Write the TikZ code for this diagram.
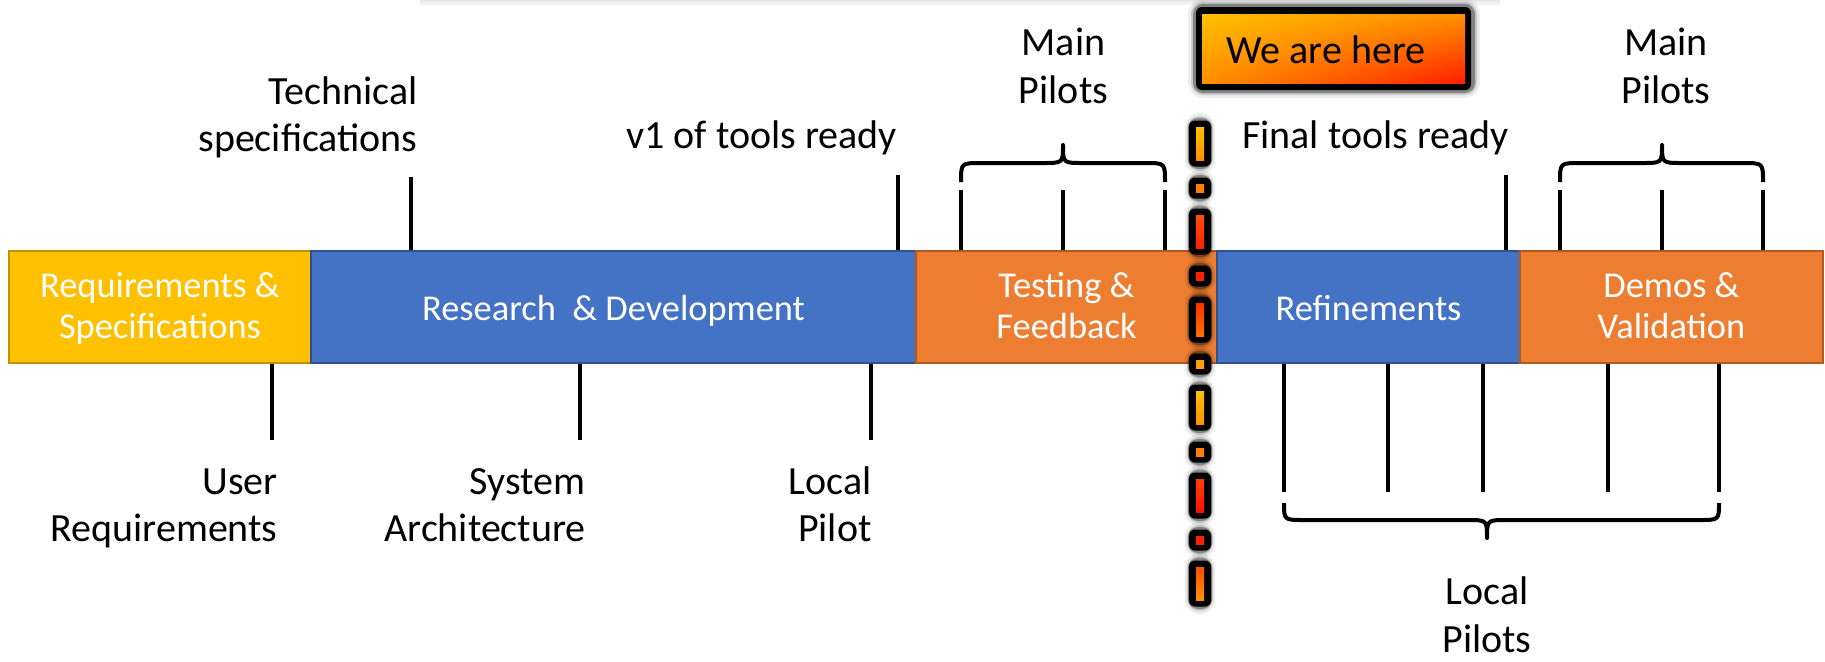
\documentclass[tikz,border=0pt]{standalone}
\usepackage{fontspec}
\setmainfont{Carlito}
\usetikzlibrary{shadings}
\definecolor{cyel}{HTML}{FFC000}
\definecolor{cyelD}{HTML}{BF9000}
\definecolor{cblu}{HTML}{4472C4}
\definecolor{cbluD}{HTML}{2F528F}
\definecolor{cora}{HTML}{ED7D31}
\definecolor{coraD}{HTML}{AE5A21}
\definecolor{gY}{HTML}{FFC000}
\definecolor{gO1}{HTML}{FF9000}
\definecolor{gO2}{HTML}{FF8000}
\definecolor{gO3}{HTML}{FFA000}
\definecolor{gR1}{HTML}{FF5000}
\definecolor{gR2}{HTML}{FF2000}
\definecolor{gR3}{HTML}{FF3000}
\definecolor{gR4}{HTML}{FF7000}
\definecolor{gR5}{HTML}{FF4000}
\definecolor{gR6}{HTML}{FF1000}
% struts for the text inside the bar
\newcommand\bt{\rule{0pt}{16pt}}
\newcommand\bb{\rule[-5.5pt]{0pt}{5.5pt}}
\newcommand\bs{\rule[-5pt]{0pt}{23pt}}
\newcommand\mydash[4]{%
  \fill[black, opacity=.07, rounded corners=7pt] (1185,#1-14) rectangle (1215,#1+#2+14);
  \fill[black, opacity=.15, rounded corners=6pt] (1187,#1-11) rectangle (1213,#1+#2+11);
  \fill[black, opacity=.35, rounded corners=5pt] (1188,#1-9) rectangle (1212,#1+#2+9);
  \fill[black, rounded corners=3pt] (1189,#1-6.5) rectangle (1211,#1+#2+6.5);
  \shade[top color=#3, bottom color=#4] (1196,#1) rectangle (1204,#1+#2);
}
\begin{document}
\begin{tikzpicture}[x=0.5pt,y=-0.5pt,
  seg/.style={draw, line width=1pt, minimum height=56pt, inner sep=0pt, text=white,
    font=\fontsize{18.2}{20.5}\selectfont, align=center},
  lbl/.style={font=\fontsize{20}{23.5}\selectfont, align=right, inner sep=0pt},
  clbl/.style={font=\fontsize{20}{24}\selectfont, align=center, inner sep=0pt},
  tick/.style={line width=2pt},
  curly/.style={line width=2pt, line join=round}]
\useasboundingbox (0,0) rectangle (1825,661);
% faint shadow at top
\shade[top color=black!10, bottom color=white] (420,0) rectangle (1500,6);

% bar segments
\node[seg, fill=cyel, draw=cyelD, minimum width=151pt] (req) at (160,307) {\bt Requirements \&\\Specifications\bb};
\node[seg, fill=cblu, draw=cbluD, minimum width=302.5pt] (rd) at (613.5,307) {\bs Research \ \& Development};
\node[seg, fill=cora, draw=coraD, minimum width=150.5pt] (tf) at (1066.5,307) {\bt Testing \&\\Feedback\bb};
\node[seg, fill=cblu, draw=cbluD, minimum width=151.5pt] (ref) at (1368.5,307) {\bs Refinements};
\node[seg, fill=cora, draw=coraD, minimum width=151.5pt] (dv) at (1671.5,307) {\bt Demos \&\\Validation\bb};

% top labels
\node[lbl, anchor=east] (tech) at (418,119) {\strut Technical\\\strut specifications};
\node[lbl, anchor=base] (v1) at (761.5,148) {v1 of tools ready};
\node[clbl] (mp1) at (1063.5,69.4) {\strut Main\\\strut Pilots};
\node[lbl, anchor=base] (final) at (1375.5,148) {Final tools ready};
\node[clbl] (mp2) at (1666,69.4) {\strut Main\\\strut Pilots};

% bottom labels
\node[lbl, anchor=east] (user) at (278,509) {\strut User\\\strut Requirements};
\node[lbl, anchor=east] (sys) at (586,509) {\strut System\\\strut Architecture};
\node[lbl, anchor=east] (lp) at (872,509) {\strut Local\\\strut Pilot};
\node[clbl] (lps) at (1487,612) {\strut Local\\Pilots};

% top ticks
\coordinate (t1) at (411,177);
\coordinate (t2) at (898,175);
\coordinate (t3) at (1506,175);
\coordinate (m1a) at (961,190);
\coordinate (m1b) at (1063,190);
\coordinate (m1c) at (1165,190);
\coordinate (m2a) at (1560,190);
\coordinate (m2b) at (1662,190);
\coordinate (m2c) at (1763,190);
\draw[tick] (t1) -- (t1 |- rd.north);
\draw[tick] (t2) -- (t2 |- rd.north);
\draw[tick] (t3) -- (t3 |- ref.north);
\foreach \c in {m1a,m1b,m1c} \draw[tick] (\c) -- (\c |- tf.north);
\foreach \c in {m2a,m2b,m2c} \draw[tick] (\c) -- (\c |- dv.north);

% bottom ticks
\coordinate (b1) at (272,440);
\coordinate (b2) at (580,440);
\coordinate (b3) at (871,440);
\coordinate (l1) at (1284,492);
\coordinate (l2) at (1388,492);
\coordinate (l3) at (1483,492);
\coordinate (l4) at (1608,492);
\coordinate (l5) at (1719,492);
\draw[tick] (b1) -- (b1 |- req.south);
\draw[tick] (b2) -- (b2 |- rd.south);
\draw[tick] (b3) -- (b3 |- rd.south);
\foreach \c in {l1,l2,l3} \draw[tick] (\c) -- (\c |- ref.south);
\foreach \c in {l4,l5} \draw[tick] (\c) -- (\c |- dv.south);

% braces
\draw[curly] (961,182) .. controls (961,163) .. (981,163) -- (1043,163)
  .. controls (1063,163) .. (1063,145) .. controls (1063,163) .. (1083,163)
  -- (1145,163) .. controls (1165,163) .. (1165,182);
\draw[curly] (1560,182) .. controls (1560,163) .. (1580,163) -- (1642,163)
  .. controls (1662,163) .. (1662,145) .. controls (1662,163) .. (1682,163)
  -- (1743,163) .. controls (1763,163) .. (1763,182);
\draw[curly] (1284,503) .. controls (1284,520) .. (1304,520) -- (1467,520)
  .. controls (1487,520) .. (1487,538) .. controls (1487,520) .. (1507,520)
  -- (1699,520) .. controls (1719,520) .. (1719,503);

% we are here line
\mydash{127}{33}{gY}{gO1}
\mydash{184}{8}{gO2}{gO2}
\mydash{215}{33}{gR1}{gR2}
\mydash{272}{8}{gR2}{gR2}
\mydash{303}{33}{gR3}{gR4}
\mydash{360}{8}{gO3}{gO3}
\mydash{391}{33}{gY}{gO1}
\mydash{448}{8}{gO2}{gO2}
\mydash{479}{33}{gR5}{gR6}
\mydash{536}{8}{gR2}{gR2}
\mydash{567}{33}{gR1}{gO1}

% we are here box
\fill[black, opacity=.07, rounded corners=8pt] (1188,-1) rectangle (1480,98);
\fill[black, opacity=.15, rounded corners=6pt] (1191,2) rectangle (1477,95);
\fill[black, opacity=.35, rounded corners=5pt] (1193,4) rectangle (1475,93);
\fill[black, rounded corners=3pt] (1196,7) rectangle (1471,90);
\shade[upper left=gY, upper right=gO1, lower left=gO1, lower right=gR2] (1202,14) rectangle (1465,83);
\node[lbl, anchor=base] (here) at (1326,63) {We are here};
\end{tikzpicture}
\end{document}
